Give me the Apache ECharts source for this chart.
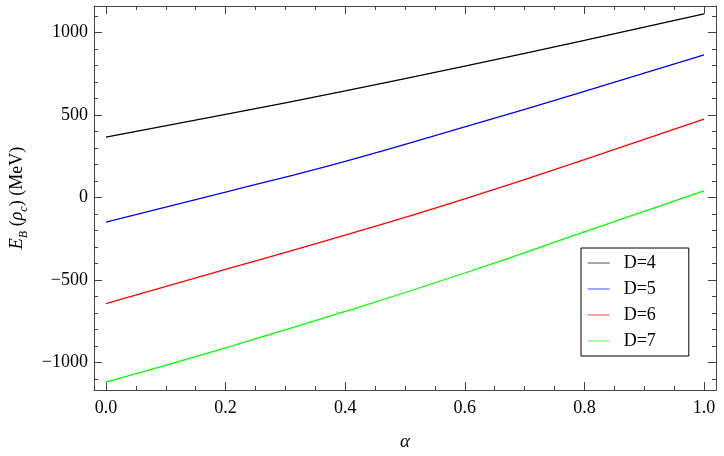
<!DOCTYPE html>
<html>
<head>
<meta charset="utf-8">
<title>E_B vs alpha</title>
<script src="https://cdn.jsdelivr.net/npm/echarts@6/dist/echarts.min.js"></script>
<style>
  html, body { margin: 0; padding: 0; background: #fff; }
  #chart { width: 724px; height: 456px; }
</style>
</head>
<body>
<div id="chart"></div>
<script>
// values
var alphaValues = [0, 0.2, 0.4, 0.6, 0.8, 1.0];
var seriesNames = ['D=4', 'D=5', 'D=6', 'D=7'];
var seriesColors = ['#000000', '#0000ff', '#ff0000', '#00ff00'];
var energyD4 = [367, 504, 646, 797, 952, 1113];
var energyD5 = [-149, 33, 220, 429, 643, 865];
var energyD6 = [-643, -435, -228, -8, 230, 476];
var energyD7 = [-1119, -910, -690, -457, -208, 40];
var energyAll = [energyD4, energyD5, energyD6, energyD7];

var serif = '"Liberation Serif", "DejaVu Serif", serif';

function pairs(values) {
    return alphaValues.map((a, i) => [a, values[i]]);
}

function frameAxis(showLabels, extra) {
    var axis = {
        type: 'value',
        axisLine: { show: true, onZero: false, lineStyle: { color: '#444', width: 1 } },
        axisTick: { show: true, inside: true, length: 8, lineStyle: { color: '#444' } },
        splitLine: { show: false },
        axisLabel: { show: showLabels }
    };
    return Object.assign(axis, extra);
}

var chart = echarts.init(document.getElementById('chart'));

var option = {
    animation: false,
    backgroundColor: '#fff',
    grid: { left: 84, right: 8, top: 6, bottom: 59 },
    legend: {
        orient: 'vertical',
        left: 581,
        top: 248,
        padding: [6, 33, 6, 6],
        itemWidth: 22,
        itemHeight: 14,
        itemGap: 8,
        borderColor: '#000',
        borderWidth: 1,
        lineStyle: { opacity: 0.55, width: 1.3 },
        itemStyle: { opacity: 0 },
        textStyle: { color: '#000', fontFamily: serif, fontSize: 18, lineHeight: 14, padding: [0, 0, 0, 9] },
        data: seriesNames
    },
    xAxis: [
        frameAxis(true, {
            min: -0.02, max: 1.02, splitNumber: 5, position: 'bottom',
            minorTick: { show: true, splitNumber: 4, length: 4, lineStyle: { color: '#444' } },
            axisLabel: {
                show: true, showMinLabel: false, showMaxLabel: false, margin: 9,
                color: '#000', fontFamily: serif, fontSize: 18,
                formatter: v => v.toFixed(1)
            },
            name: 'α',
            nameLocation: 'middle',
            nameGap: 42,
            nameTextStyle: { color: '#000', fontFamily: serif, fontSize: 19, fontStyle: 'italic' }
        }),
        frameAxis(false, {
            min: -0.02, max: 1.02, splitNumber: 5, position: 'top',
            minorTick: { show: true, splitNumber: 4, length: 4, lineStyle: { color: '#444' } }
        })
    ],
    yAxis: [
        frameAxis(true, {
            min: -1166, max: 1161, splitNumber: 5, position: 'left',
            minorTick: { show: true, splitNumber: 5, length: 4, lineStyle: { color: '#444' } },
            axisLabel: {
                show: true, showMinLabel: false, showMaxLabel: false, margin: 6,
                color: '#000', fontFamily: serif, fontSize: 18,
                formatter: v => (v < 0 ? '\u2212' + Math.abs(v) : String(v))
            },
            name: '{i|E}{sub|B} ({i|ρ}{sub|c}) (MeV)',
            nameLocation: 'middle',
            nameGap: 64,
            nameRotate: 90,
            nameTextStyle: {
                color: '#000', fontFamily: serif, fontSize: 18,
                rich: {
                    i: { fontFamily: serif, fontSize: 18, fontStyle: 'italic', color: '#000' },
                    sub: { fontFamily: serif, fontSize: 12, fontStyle: 'italic', color: '#000',
                           verticalAlign: 'bottom', lineHeight: 26 }
                }
            }
        }),
        frameAxis(false, {
            min: -1166, max: 1161, splitNumber: 5, position: 'right',
            minorTick: { show: true, splitNumber: 5, length: 4, lineStyle: { color: '#444' } }
        })
    ],
    series: seriesNames.map((name, k) => ({
        name: name,
        type: 'line',
        xAxisIndex: 0,
        yAxisIndex: 0,
        symbol: 'none',
        smooth: true,
        color: seriesColors[k],
        lineStyle: { color: seriesColors[k], width: 1.3 },
        data: pairs(energyAll[k])
    }))
};

chart.setOption(option);
</script>
</body>
</html>
